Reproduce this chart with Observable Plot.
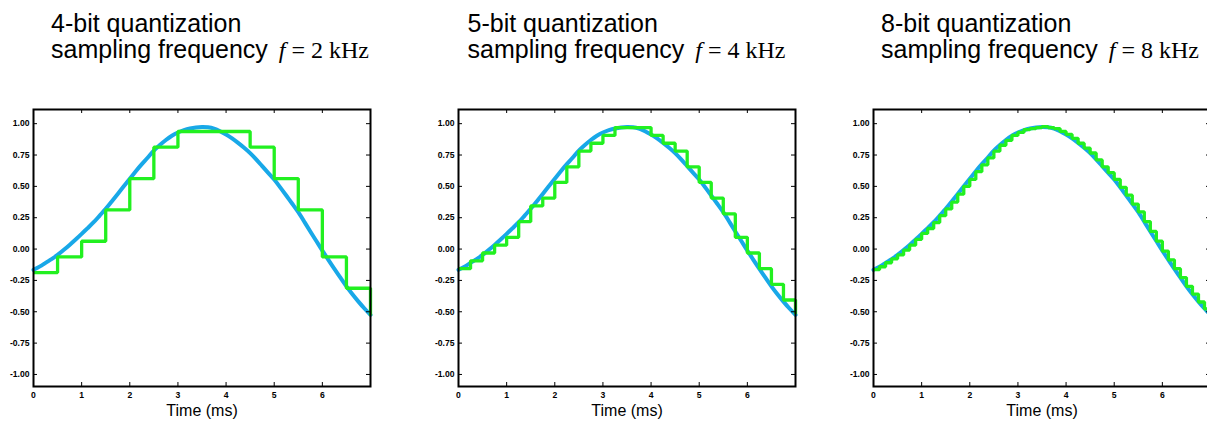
<!DOCTYPE html>
<html>
<head>
<meta charset="utf-8">
<script src="https://cdn.jsdelivr.net/npm/d3@7"></script>
<script src="https://cdn.jsdelivr.net/npm/@observablehq/plot@0.6"></script>
<style>
  html, body { margin: 0; padding: 0; background: #fff; overflow: hidden; width: 1207px; height: 421px; position: relative; }
  .panel { position: absolute; top: 100px; }
  .panel svg { max-width: none !important; display: block; }
  .title { position: absolute; top: 9.5px; font-family: "Liberation Sans", Arial, sans-serif; font-size: 25px; line-height: 26px; color: #000; white-space: nowrap; }
  .math { font-family: "Liberation Serif", "Times New Roman", serif; font-size: 24px; margin-left: 5px; }
  .math i { font-style: italic; }
</style>
</head>
<body>
<script>
// ---- data ----
const panelTitles = ["4-bit quantization", "5-bit quantization", "8-bit quantization"];
const sampleFreqKHz = [2, 4, 8];
const xTicks = [0, 1, 2, 3, 4, 5, 6];
const yTicks = [-1, -0.75, -0.5, -0.25, 0, 0.25, 0.5, 0.75, 1];

// analog signal (blue), read every 0.125 ms from 0 to 7 ms
const signal = [
  -0.165, -0.14, -0.11, -0.08, -0.047, -0.008, 0.033, 0.076,
   0.121, 0.167, 0.214, 0.267, 0.321, 0.38, 0.44, 0.5,
   0.56, 0.62, 0.677, 0.73, 0.785, 0.83, 0.87, 0.904,
   0.93, 0.949, 0.962, 0.97, 0.973, 0.971, 0.961, 0.94,
   0.914, 0.883, 0.847, 0.808, 0.765, 0.715, 0.661, 0.608,
   0.555, 0.492, 0.427, 0.361, 0.294, 0.218, 0.14, 0.064,
  -0.012, -0.086, -0.158, -0.228, -0.297, -0.36, -0.419, -0.474,
  -0.525
];

// quantized samples (green), held until the next sample
const q4bit = [-0.1875, -0.0625, 0.0625, 0.3125, 0.5625, 0.8125, 0.9375, 0.9375,
  0.9375, 0.8125, 0.5625, 0.3125, -0.0625, -0.3125, -0.53];
const q5bit = [-0.15625, -0.09375, -0.03125, 0.03125, 0.09375, 0.21875, 0.34375, 0.40625,
  0.53125, 0.65625, 0.78125, 0.84375, 0.90625, 0.96875, 0.96875, 0.96875,
  0.90625, 0.84375, 0.78125, 0.65625, 0.53125, 0.40625, 0.28125, 0.09375,
  -0.03125, -0.15625, -0.28125, -0.40625, -0.52];
const q8bit = [
  -0.164, -0.141, -0.109, -0.078, -0.047, -0.008, 0.031, 0.078,
   0.125, 0.164, 0.211, 0.266, 0.32, 0.375, 0.438, 0.5,
   0.555, 0.617, 0.672, 0.727, 0.781, 0.828, 0.867, 0.906,
   0.93, 0.953, 0.961, 0.969, 0.977, 0.969, 0.961, 0.938,
   0.914, 0.883, 0.844, 0.805, 0.766, 0.711, 0.656, 0.609,
   0.555, 0.492, 0.43, 0.359, 0.297, 0.219, 0.141, 0.063,
  -0.016, -0.086, -0.156, -0.227, -0.297, -0.359, -0.422, -0.477,
  -0.523
];
const quantized = [q4bit, q5bit, q8bit];

// ---- layout ----
const frameLefts = [33, 458.3, 873.3];
const titleLefts = [51, 467.5, 881];
const mL = 35, mR = 10, mT = 9, mB = 35;
const FW = 337, FH = 277;
const W = mL + FW + mR, H = mT + FH + mB;
const blue = "#18a8e8";
const green = "#22f020";

const signalData = signal.map((v, i) => ({t: i * 0.125, v}));

quantized.forEach((q, p) => {
  const dt = 1 / sampleFreqKHz[p];
  const steps = q.map((v, i) => ({t: i * dt, v}));

  const chart = Plot.plot({
    width: W, height: H,
    marginLeft: mL, marginRight: mR, marginTop: mT, marginBottom: mB,
    style: {fontFamily: "'Liberation Sans', Arial, sans-serif", background: "transparent", overflow: "visible", maxWidth: "none"},
    x: {domain: [0, 7]},
    y: {domain: [-1.096, 1.113]},
    marks: [
      Plot.line(signalData, {x: "t", y: "v", stroke: blue, strokeWidth: 4, curve: "natural"}),
      Plot.line(steps, {x: "t", y: "v", stroke: green, strokeWidth: 3.3, curve: "step-after", strokeLinejoin: "miter", strokeLinecap: "butt"}),
      // inward ticks on all four sides
      Plot.tickX(xTicks, {x: d => d, insetTop: FH - 4, stroke: "#000"}),
      Plot.tickX(xTicks, {x: d => d, insetBottom: FH - 4, stroke: "#000"}),
      Plot.tickY(yTicks, {y: d => d, insetRight: FW - 4, stroke: "#000"}),
      Plot.tickY(yTicks, {y: d => d, insetLeft: FW - 4, stroke: "#000"}),
      Plot.axisY({anchor: "left", ticks: yTicks, tickSize: 0, tickPadding: 4, tickFormat: d => d.toFixed(2), fontSize: 8.6, fontWeight: "bold", label: null}),
      Plot.axisX({anchor: "bottom", ticks: xTicks, tickSize: 0, tickPadding: 5, tickFormat: d => String(d), fontSize: 8.6, fontWeight: "bold", label: null}),
      Plot.text(["Time (ms)"], {text: d => d, frameAnchor: "bottom", dy: 29.5, fontSize: 16, fill: "#000"}),
      Plot.frame({stroke: "#000", strokeWidth: 2})
    ]
  });
  const holder = document.createElement("div");
  holder.className = "panel";
  holder.style.left = (frameLefts[p] - mL) + "px";
  holder.style.width = W + "px";
  holder.style.height = H + "px";
  holder.appendChild(chart);
  document.body.appendChild(holder);

  const title = document.createElement("div");
  title.className = "title";
  title.style.left = titleLefts[p] + "px";
  title.innerHTML = panelTitles[p] + "<br>sampling frequency<span class=\"math\"> <i>f</i> = " + sampleFreqKHz[p] + " kHz</span>";
  document.body.appendChild(title);
});
</script>
</body>
</html>
